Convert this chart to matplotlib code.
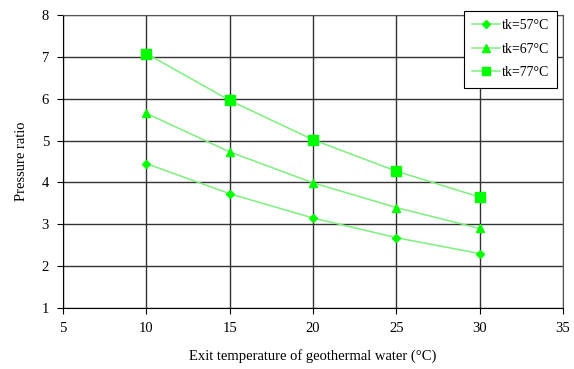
import matplotlib
matplotlib.use("Agg")
import matplotlib.pyplot as plt

plt.rcParams['font.family'] = ['Liberation Serif', 'DejaVu Serif']

x = [10, 15, 20, 25, 30]
tk57 = [4.45, 3.73, 3.15, 2.68, 2.30]
tk67 = [5.65, 4.73, 3.99, 3.40, 2.90]
tk77 = [7.08, 5.96, 5.02, 4.27, 3.65]
labels = ['tk=57°C', 'tk=67°C', 'tk=77°C']
markers = ['D', '^', 's']
msizes = [4, 6, 6.5]

fig = plt.figure(figsize=(5.74, 3.69), dpi=100)
ax = fig.add_axes([63/574, 1-308/369, 500/574, 293/369])

for ys, lab, m, ms in zip([tk57, tk67, tk77], labels, markers, msizes):
    ax.plot(x, ys, color='#7CF07C', lw=1.1, marker=m, ms=ms,
            mfc='#00FF00', mec='#00FF00', label=lab, zorder=3)

ax.set_xlim(5, 35)
ax.set_ylim(1, 8)
ax.set_xticks([5, 10, 15, 20, 25, 30, 35])
ax.set_yticks(range(1, 9))
ax.grid(True, color='#333333', lw=1.0)
for s in ax.spines.values():
    s.set_color('#555555')
ax.spines['left'].set_color('black')
ax.spines['bottom'].set_color('black')
ax.tick_params(direction='out', length=4, labelsize=10.5, color='black', pad=6)
ax.set_xlabel('Exit temperature of geothermal water (°C)', fontsize=10.5, labelpad=10)
ax.set_ylabel('Pressure ratio', fontsize=10.5, labelpad=10)

leg = ax.legend(loc='upper right', bbox_to_anchor=(557/574, 1-11/369), bbox_transform=fig.transFigure,
                borderaxespad=0, fontsize=10, frameon=True, fancybox=False, edgecolor='black',
                framealpha=1, handlelength=2.0, labelspacing=0.75, borderpad=0.6, handletextpad=0.1,
                markerscale=0.9)
leg.get_frame().set_linewidth(0.8)

fig.savefig('out.png', dpi=100)
